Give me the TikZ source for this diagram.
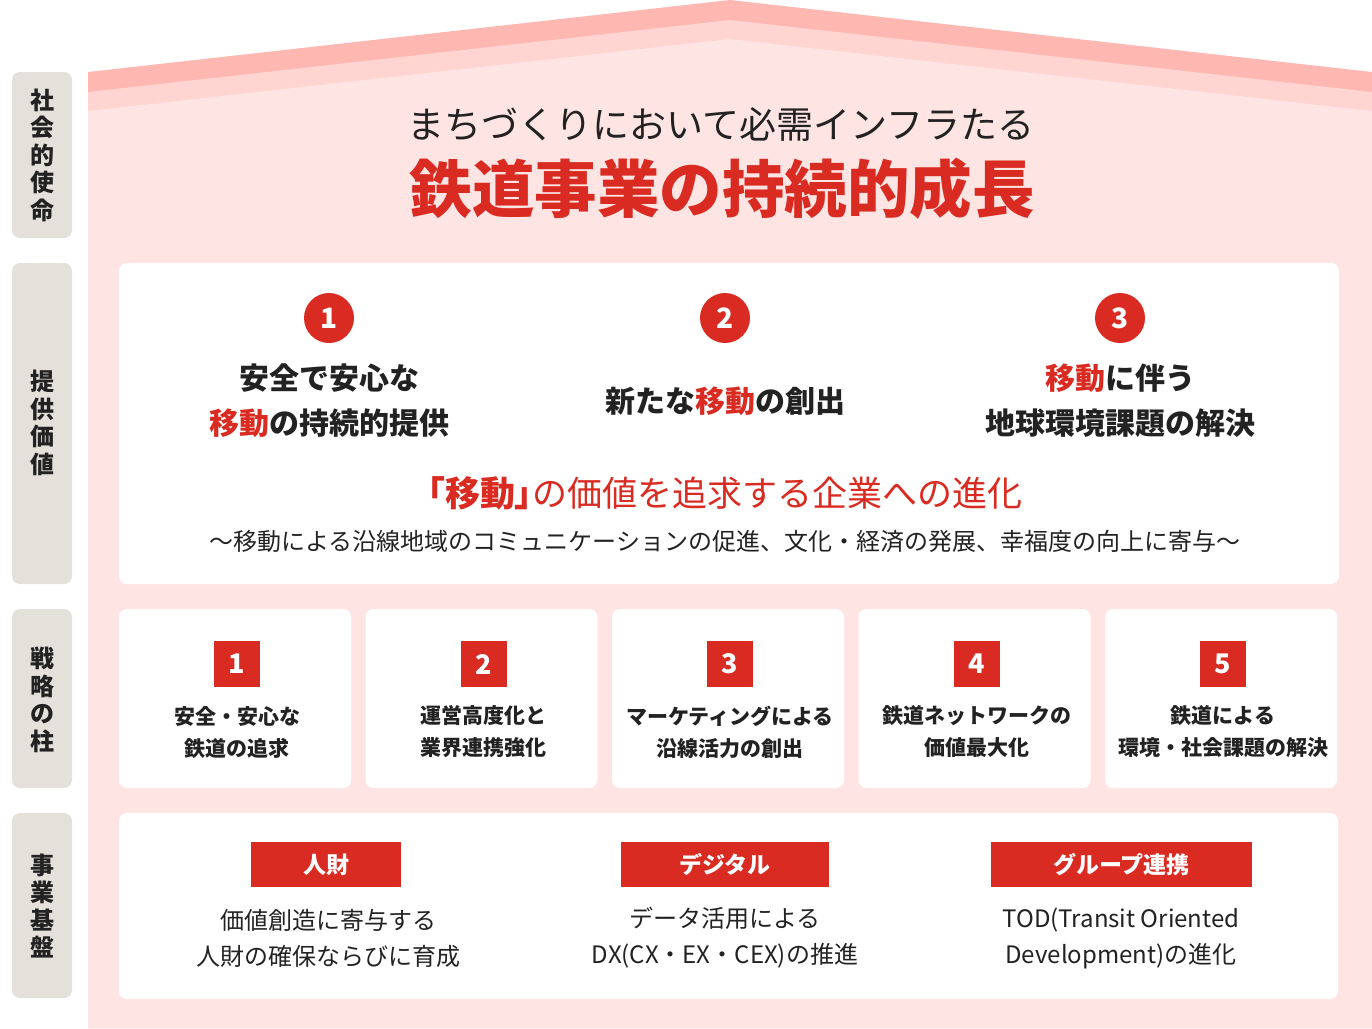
\documentclass[tikz,border=0pt]{standalone}
\usepackage{fontspec}
\setmainfont{Noto Sans CJK JP}

\definecolor{tetsured}{HTML}{D92B21}
\definecolor{roofdark}{HTML}{FFB7B2}
\definecolor{rooflight}{HTML}{FFD4D1}
\definecolor{housepink}{HTML}{FFE4E4}
\definecolor{labelgray}{HTML}{E4E1DB}
\definecolor{inkdark}{HTML}{222222}

\begin{document}
\begin{tikzpicture}[x=1pt, y=-1pt,
  labelbox/.style={fill=labelgray, rounded corners=8pt},
  panel/.style={fill=white, rounded corners=8pt},
  sidetext/.style={inner sep=0pt, align=center, text=inkdark,
    font=\bfseries\fontsize{24}{27.5}\selectfont},
  numdot/.style={circle, fill=tetsured, minimum size=50pt, inner sep=0pt,
    text=white, font=\bfseries\fontsize{28}{28}\selectfont},
  numsquare/.style={fill=tetsured, minimum size=46pt, inner sep=0pt,
    text=white, font=\bfseries\fontsize{27}{27}\selectfont},
  valuetext/.style={inner sep=0pt, align=center, text=inkdark,
    font=\bfseries\fontsize{30}{45}\selectfont},
  pillartext/.style={inner sep=0pt, align=center, text=inkdark,
    font=\bfseries\fontsize{21}{32}\selectfont},
  tag/.style={fill=tetsured, minimum height=45pt, inner sep=0pt,
    text=white, font=\bfseries\fontsize{23}{23}\selectfont},
  basetext/.style={inner sep=0pt, align=center, text=inkdark,
    font=\fontsize{24}{36}\selectfont}]
\useasboundingbox (0,0) rectangle (1372,1028);

% house and roof
\fill[roofdark] (88,72) -- (730,0) -- (1372,72) -- (1372,1028) -- (88,1028) -- cycle;
\fill[rooflight] (88,92) -- (730,20) -- (1372,92) -- (1372,1028) -- (88,1028) -- cycle;
\fill[housepink] (88,111) -- (730,39) -- (1372,111) -- (1372,1028) -- (88,1028) -- cycle;

% side labels
\fill[labelbox] (12,72) rectangle (72,238);
\fill[labelbox] (12,263) rectangle (72,584);
\fill[labelbox] (12,609) rectangle (72,788);
\fill[labelbox] (12,813) rectangle (72,998);
\node[sidetext] (mission) at (42,155) {社\\会\\的\\使\\命};
\node[sidetext] (value) at (42,423) {提\\供\\価\\値};
\node[sidetext] (pillar) at (42,700) {戦\\略\\の\\柱};
\node[sidetext] (base) at (42,906) {事\\業\\基\\盤};

% title
\node[inner sep=0pt, text=inkdark, font=\fontsize{37}{37}\selectfont] (subtitle) at (721,124) {まちづくりにおいて必需インフラたる};
\node[inner sep=0pt, text=tetsured, font=\bfseries\fontsize{62.5}{62.5}\selectfont] (title) at (722,189) {鉄道事業の持続的成長};

% provided value
\fill[panel] (119,263) rectangle (1339,584);
\node[numdot] (v1) at (329,318) {1};
\node[numdot] (v2) at (725,318) {2};
\node[numdot] (v3) at (1120,318) {3};
\node[valuetext] (v1text) at (329,401) {安全で安心な\\{\color{tetsured}移動}の持続的提供};
\node[valuetext] (v2text) at (725,401) {新たな{\color{tetsured}移動}の創出};
\node[valuetext] (v3text) at (1120,401) {{\color{tetsured}移動}に伴う\\地球環境課題の解決};
\node[inner sep=0pt, text=tetsured, font=\fontsize{35}{35}\selectfont] (evolve) at (725,493) {{\addfontfeatures{RawFeature=+palt}\bfseries「移動」}の価値を追求する企業への進化};
\node[inner sep=0pt, text=inkdark, font=\fontsize{24}{24}\selectfont] (contrib) at (725,541) {～移動による沿線地域のコミュニケーションの促進、文化・経済の発展、幸福度の向上に寄与～};

% strategy pillars
\foreach \i/\first/\second in {1/安全・安心な/鉄道の追求, 2/運営高度化と/業界連携強化, 3/マーケティングによる/沿線活力の創出, 4/鉄道ネットワークの/価値最大化, 5/鉄道による/環境・社会課題の解決}
{
  \pgfmathsetmacro{\cx}{235+246.5*(\i-1)}
  \fill[panel] (\cx-116,609) rectangle (\cx+116,788);
  \node[numsquare] (pillar\i) at (\cx+2,664) {\i};
  \node[pillartext] (pillartext\i) at (\cx+2,732) {\first\\\second};
}

% business base
\fill[panel] (119,813) rectangle (1338,999);
\node[tag, minimum width=150pt] (people) at (326,864.5) {人財};
\node[tag, minimum width=208pt] (digital) at (725,864.5) {デジタル};
\node[tag, minimum width=261pt] (group) at (1121.5,864.5) {グループ連携};
\node[basetext] (peopletext) at (328,938) {価値創造に寄与する\\人財の確保ならびに育成};
\node[basetext] (digitaltext) at (725,938) {データ活用による\\DX(CX・EX・CEX)の推進};
\node[basetext] (grouptext) at (1121,938) {TOD(Transit Oriented\\Development)の進化};
\end{tikzpicture}
\end{document}
